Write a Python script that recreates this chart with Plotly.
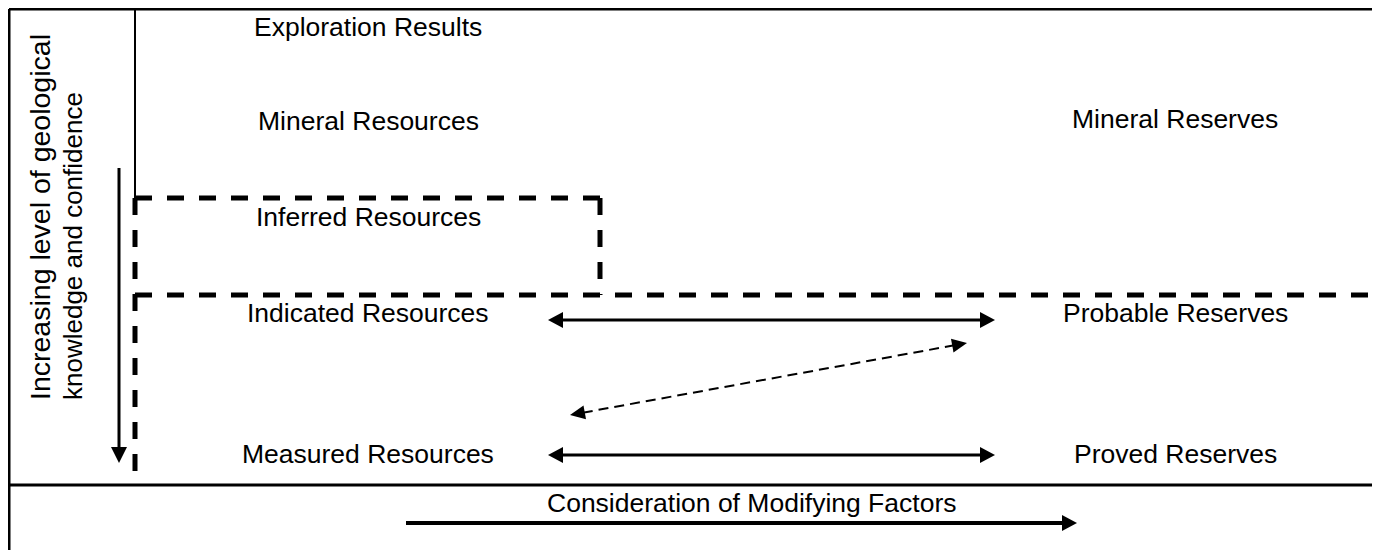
import math
import plotly.graph_objects as go

# ---- diagram content ----
left_labels = ["Exploration Results", "Mineral Resources", "Inferred Resources",
               "Indicated Resources", "Measured Resources"]
right_labels = ["Mineral Reserves", "Probable Reserves", "Proved Reserves"]
axis_label_lines = ["Increasing level of geological", "knowledge and confidence"]
bottom_label = "Consideration of Modifying Factors"

# ---- layout (pixel coordinates of the 1380x550 page) ----
W, H = 1380, 550
OFF = 8  # page body margin
left_x = 368
left_y = [27, 121, 217, 313, 454]
right_x = 1175
right_y = [119, 313, 454]
bottom_label_pos = (751, 503)
axis_label_x = [40, 73]
axis_label_size = [28.5, 26]
FONT = "Liberation Sans, Arial, sans-serif"
FS = 26.5

fig = go.Figure()
shapes = []

def line(x0, y0, x1, y1, width=3, dash="solid"):
    shapes.append(dict(type="line", xref="x", yref="y", x0=x0, y0=y0, x1=x1, y1=y1,
                       line=dict(color="black", width=width, dash=dash)))

def head(tx, ty, fx, fy, L=14, Wd=8):
    d = math.hypot(tx - fx, ty - fy)
    ux, uy = (tx - fx) / d, (ty - fy) / d
    bx, by = tx - L * ux, ty - L * uy
    nx, ny = -uy, ux
    p = f"M {tx} {ty} L {bx + Wd*nx} {by + Wd*ny} L {bx - Wd*nx} {by - Wd*ny} Z"
    shapes.append(dict(type="path", xref="x", yref="y", path=p,
                       fillcolor="black", line=dict(color="black", width=0)))

def arrow(x0, y0, x1, y1, width=3, dash="solid", both=False, L=14, Wd=8):
    d = math.hypot(x1 - x0, y1 - y0)
    ux, uy = (x1 - x0) / d, (y1 - y0) / d
    sx, sy = (x0 + (L - 2) * ux, y0 + (L - 2) * uy) if both else (x0, y0)
    ex, ey = x1 - (L - 2) * ux, y1 - (L - 2) * uy
    line(sx, sy, ex, ey, width, dash)
    head(x1, y1, x0, y0, L, Wd)
    if both:
        head(x0, y0, x1, y1, L, Wd)

# frame
line(9, 9, W + 5, 9, 3)
line(9, 9, 9, H + 5, 3)
line(9, 485, W + 5, 485, 3)
line(135, 9, 135, 198, 2)

# dashed boundaries
DASH = "17px,15px"
line(135, 198, 600, 198, 5, DASH)
line(600, 198, 600, 295, 5, DASH)
line(135, 198, 135, 485, 5, DASH)
line(135, 295, W + 5, 295, 5, DASH)

# arrows
arrow(119, 168, 119, 463, width=3, L=16, Wd=8)
arrow(548, 320, 995, 320, width=3, both=True, L=15, Wd=8)
arrow(548, 455, 995, 455, width=3, both=True, L=15, Wd=8)
arrow(570, 415, 967, 343, width=2, dash="10px,6px", both=True, L=15, Wd=7)
arrow(406, 523, 1077, 523, width=4, L=15, Wd=8)

fig.update_layout(shapes=shapes)

ann = []
for t, y in zip(left_labels, left_y):
    ann.append(dict(x=left_x, y=y, text=t, xanchor="center", yanchor="middle"))
for t, y in zip(right_labels, right_y):
    ann.append(dict(x=right_x, y=y, text=t, xanchor="center", yanchor="middle"))
ann.append(dict(x=bottom_label_pos[0], y=bottom_label_pos[1], text=bottom_label,
                xanchor="center", yanchor="middle"))
for a in ann:
    a["font"] = dict(family=FONT, size=FS, color="black")
for t, x, s in zip(axis_label_lines, axis_label_x, axis_label_size):
    ann.append(dict(x=x, y=402, text=t, textangle=-90, xanchor="center", yanchor="bottom",
                    font=dict(family=FONT, size=s, color="black")))
for a in ann:
    a.update(xref="x", yref="y", showarrow=False)
fig.update_layout(annotations=ann)

fig.update_layout(
    width=W - OFF, height=H - OFF, margin=dict(l=0, r=0, t=0, b=0),
    paper_bgcolor="white", plot_bgcolor="white", showlegend=False,
    xaxis=dict(range=[OFF, W], visible=False, fixedrange=True),
    yaxis=dict(range=[H, OFF], visible=False, fixedrange=True),
)
fig.write_html("out.html")
